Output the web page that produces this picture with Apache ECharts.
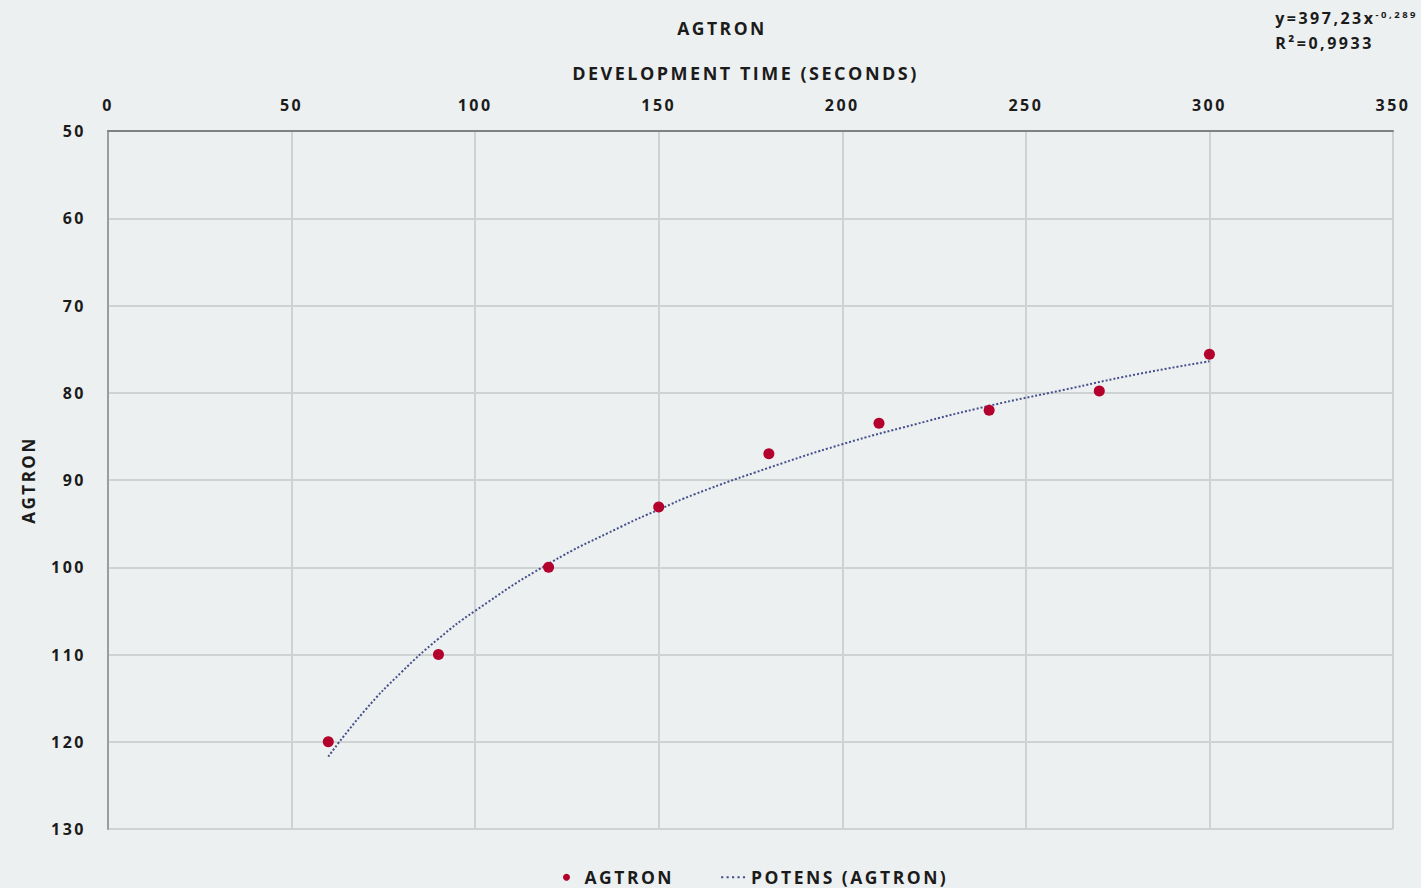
<!DOCTYPE html>
<html>
<head>
<meta charset="utf-8">
<title>Agtron</title>
<script src="https://cdn.jsdelivr.net/npm/echarts@6/dist/echarts.min.js"></script>
<style>
  html, body { margin: 0; padding: 0; }
  body { background: #edf0f0; }
  #chart { width: 1421px; height: 888px; }
  /* tracked caps for every label */
  #chart svg text { letter-spacing: 2.5px; }
</style>
</head>
<body>
<div id="chart"></div>
<script>
// Development time (seconds) against measured Agtron number
const devTime = [60, 90, 120, 150, 180, 210, 240, 270, 300];
const agtron = [120, 110, 100, 93.1, 87, 83.5, 82, 79.8, 75.6];

// Power trend line (POTENS) sampled along the curve
const trendTime = [60, 70, 80, 90, 100, 120, 140, 150, 160, 180, 200, 220, 240, 260, 280, 300];
const trendAgtron = [121.7, 116.4, 112.0, 108.2, 105.0, 99.6, 95.3, 93.4, 91.6, 88.6, 85.9, 83.6, 81.5, 79.7, 77.9, 76.4];

const xTicks = { min: 0, max: 350, interval: 50 };
const yTicks = { min: 50, max: 130, interval: 10 };

const FONT = '"Open Sans", Lato, sans-serif';
const INK = '#1b1b1b';
const SPACING = '2.5px';

// measure text with the same tracking the page applies to svg text
const measureCtx = document.createElement('canvas').getContext('2d');
measureCtx.letterSpacing = SPACING;
echarts.setPlatformAPI({
  measureText(text, font) {
    measureCtx.font = font;
    return measureCtx.measureText(text);
  }
});

const dom = document.getElementById('chart');
const chart = echarts.init(dom, null, { renderer: 'svg' });

const txt = (size) => ({ fontFamily: FONT, fontWeight: 'bold', fontSize: size, color: INK });

// five-dot icon for the dotted trend line in the legend
const dottedIcon = 'path://M0,0h2v2h-2zM5,0h2v2h-2zM10,0h2v2h-2zM15,0h2v2h-2zM20,0h2v2h-2z';

chart.setOption({
  backgroundColor: '#edf0f0',
  animation: false,
  title: {
    text: 'AGTRON',
    left: 717,
    top: 13,
    textAlign: 'center',
    textStyle: txt(17.5)
  },
  graphic: [{
    type: 'text',
    right: 3,
    top: 5,
    style: {
      text: '{a|y=397,23x}{s|-0,289}\n{a|R²=0,9933}',
      rich: {
        a: { fontFamily: FONT, fontWeight: 'bold', fontSize: 16, fill: INK, lineHeight: 25 },
        s: { fontFamily: FONT, fontWeight: 'bold', fontSize: 9.5, fill: INK, lineHeight: 25, verticalAlign: 'top', padding: [3, 0, 0, 0] }
      }
    }
  }],
  legend: {
    top: 862,
    left: 558,
    itemGap: 47,
    itemWidth: 24,
    itemHeight: 7,
    textStyle: Object.assign(txt(17.5), { lineHeight: 16, padding: [0, 0, 0, 1] }),
    data: [
      { name: 'AGTRON', icon: 'circle' },
      { name: 'POTENS (AGTRON)', icon: dottedIcon }
    ]
  },
  grid: { left: 108, right: 28, top: 131, bottom: 59 },
  xAxis: {
    type: 'value',
    position: 'top',
    min: xTicks.min,
    max: xTicks.max,
    interval: xTicks.interval,
    name: 'DEVELOPMENT TIME (SECONDS)',
    nameLocation: 'middle',
    nameGap: 48,
    nameTextStyle: Object.assign(txt(18), { padding: [0, 10, 0, 0] }),
    axisLine: { show: true, lineStyle: { color: '#7f8282', width: 2 } },
    axisTick: { show: false },
    axisLabel: Object.assign(txt(16), { margin: 17 }),
    splitLine: { show: true, lineStyle: { color: '#cfd2d2', width: 2 } }
  },
  yAxis: {
    type: 'value',
    inverse: true,
    min: yTicks.min,
    max: yTicks.max,
    interval: yTicks.interval,
    name: 'AGTRON',
    nameLocation: 'middle',
    nameGap: 70,
    nameRotate: 90,
    nameTextStyle: txt(17),
    axisLine: { show: true, lineStyle: { color: '#9a9d9d', width: 2 } },
    axisTick: { show: false },
    axisLabel: Object.assign(txt(16), { margin: 22 }),
    splitLine: { show: true, lineStyle: { color: '#cfd2d2', width: 2 } }
  },
  series: [
    {
      name: 'POTENS (AGTRON)',
      type: 'line',
      smooth: true,
      symbol: 'none',
      z: 2,
      lineStyle: { color: '#45508c', width: 2, type: 'dotted' },
      itemStyle: { color: '#45508c' },
      data: trendTime.map((t, i) => [t, trendAgtron[i]])
    },
    {
      name: 'AGTRON',
      type: 'scatter',
      symbol: 'circle',
      symbolSize: 11,
      z: 3,
      itemStyle: { color: '#b3002d', opacity: 1 },
      data: devTime.map((t, i) => [t, agtron[i]])
    }
  ]
});
</script>
</body>
</html>
